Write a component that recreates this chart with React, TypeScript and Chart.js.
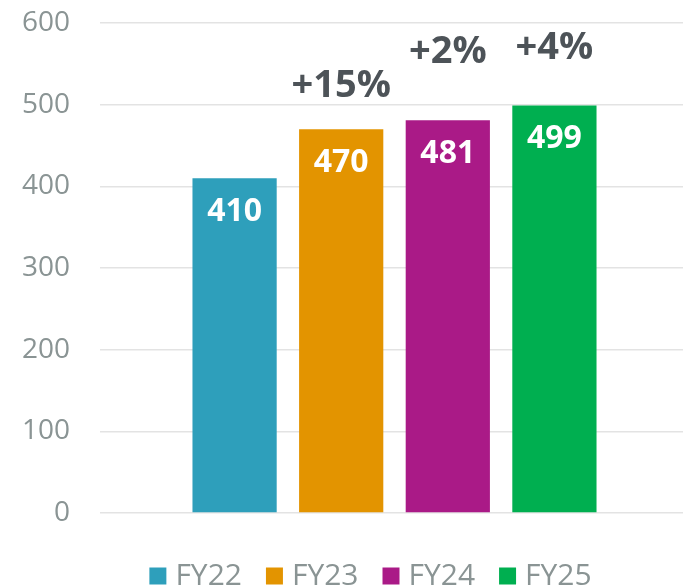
import React, { useEffect, useRef } from "react";
import { Chart, registerables } from "chart.js";

Chart.register(...registerables);

const categories = [""];
const seriesNames = ["FY22", "FY23", "FY24", "FY25"];
const seriesValues = [410, 470, 481, 499];
const seriesColors = ["#2e9fbb", "#e39400", "#aa1a87", "#00af50"];
const growthLabels = ["", "+15%", "+2%", "+4%"];
const growthLabelAnchors: (number | null)[] = [null, 510, 551, 556];
const yTicks = [0, 100, 200, 300, 400, 500, 600];

const FONT = '"Open Sans", "Noto Sans", sans-serif';

const labelPlugin = {
  id: "barLabels",
  afterLayout(chart: any) {
    if (chart.legend) {
      chart.legend.left += 29;
      chart.legend.right += 29;
    }
  },
  afterDatasetsDraw(chart: any) {
    const ctx = chart.ctx;
    const yScale = chart.scales.y;
    chart.data.datasets.forEach((_ds: any, i: number) => {
      const meta = chart.getDatasetMeta(i);
      const bar = meta.data[0];
      if (!bar) return;
      ctx.save();
      ctx.textAlign = "center";
      ctx.textBaseline = "alphabetic";
      ctx.fillStyle = "#ffffff";
      ctx.font = `bold 32px ${FONT}`;
      ctx.fillText(String(seriesValues[i]), bar.x, bar.y + 43);
      const g = growthLabels[i];
      const a = growthLabelAnchors[i];
      if (g && a !== null) {
        ctx.fillStyle = "#4d5358";
        ctx.font = `bold 38px ${FONT}`;
        ctx.fillText(g, bar.x, yScale.getPixelForValue(a));
      }
      ctx.restore();
    });
  },
};

export default function App() {
  const ref = useRef<HTMLCanvasElement | null>(null);
  useEffect(() => {
    if (!ref.current) return;
    const chart = new Chart(ref.current, {
      type: "bar",
      data: {
        labels: categories,
        datasets: seriesNames.map((name, i) => ({
          label: name,
          data: [seriesValues[i]],
          backgroundColor: seriesColors[i],
          borderWidth: 0,
          categoryPercentage: 0.724,
          barPercentage: 0.79,
        })),
      },
      options: {
        responsive: false,
        animation: false,
        devicePixelRatio: 1,
        layout: { padding: { top: 23, left: 0, right: 0, bottom: 0 } },
        scales: {
          x: {
            display: true,
            grid: { display: false },
            border: { display: false },
            ticks: { display: false },
            afterFit(scale: any) {
              scale.height = 18;
            },
          },
          y: {
            min: 0,
            max: 600,
            afterBuildTicks(scale: any) {
              scale.ticks = yTicks.map((v) => ({ value: v }));
            },
            grid: {
              color: "#e3e3e3",
              lineWidth: 1.5,
              drawTicks: true,
              tickLength: 30,
              tickColor: "rgba(0,0,0,0)",
            },
            border: { display: false },
            ticks: {
              padding: 0,
              color: "#8a9494",
              font: { family: FONT, size: 28 },
            },
            afterFit(scale: any) {
              scale.width = 100;
            },
          },
        },
        plugins: {
          legend: {
            position: "bottom",
            labels: {
              usePointStyle: true,
              pointStyle: "rect",
              boxWidth: 5,
              boxHeight: 17,
              padding: 30,
              color: "#8a9494",
              font: { family: FONT, size: 30 },
            },
          },
          tooltip: { enabled: false },
        },
      },
      plugins: [labelPlugin],
    });
    return () => chart.destroy();
  }, []);
  return (
    <div
      style={{
        position: "fixed",
        left: 0,
        top: 0,
        width: 683,
        height: 586,
        overflow: "hidden",
        background: "#fff",
      }}
    >
      <canvas ref={ref} width={689} height={601} style={{ display: "block" }} />
    </div>
  );
}
